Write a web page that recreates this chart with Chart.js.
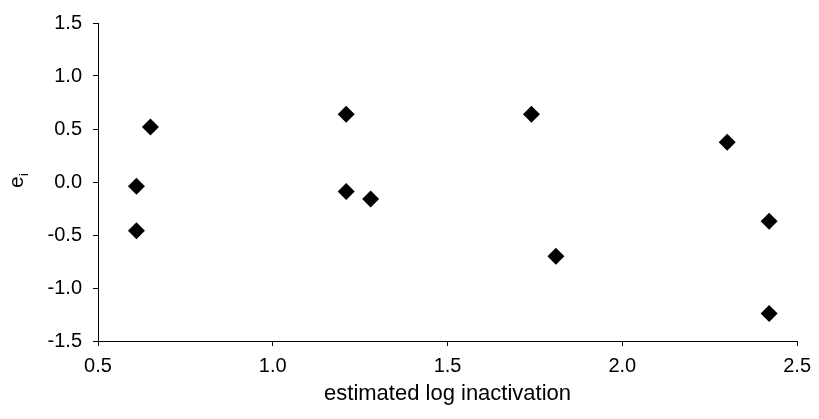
<!DOCTYPE html>
<html>
<head>
<meta charset="utf-8">
<script src="https://cdn.jsdelivr.net/npm/chart.js@4"></script>
<style>
  html, body { margin: 0; padding: 0; background: #fff; }
  #wrap { width: 819px; height: 419px; }
</style>
</head>
<body>
<div id="wrap"><canvas id="myChart"></canvas></div>
<script>
// estimated log inactivation vs residual e_i
const xValues = [0.61, 0.61, 0.65, 1.21, 1.21, 1.28, 1.74, 1.81, 2.30, 2.42, 2.42];
const yValues = [-0.04, -0.46, 0.52, 0.64, -0.09, -0.16, 0.64, -0.70, 0.375, -0.37, -1.24];
const xTicks = [0.5, 1.0, 1.5, 2.0, 2.5];
const yTicks = [1.5, 1.0, 0.5, 0.0, -0.5, -1.0, -1.5];

const points = xValues.map(function (x, i) {
  return { x: x, y: yValues[i] };
});

const font = { family: "Liberation Sans, Arial, sans-serif", size: 20 };

// draws the rotated "e" with subscript "i"
const yTitlePlugin = {
  id: "yTitle",
  afterDraw(chart) {
    const ctx = chart.ctx;
    const area = chart.chartArea;
    ctx.save();
    ctx.translate(23, (area.top + area.bottom) / 2);
    ctx.rotate(-Math.PI / 2);
    ctx.fillStyle = "#000";
    ctx.textBaseline = "alphabetic";
    ctx.font = "21px Liberation Sans, Arial, sans-serif";
    ctx.fillText("e", -6, 0);
    ctx.font = "13px Liberation Sans, Arial, sans-serif";
    ctx.fillText("i", 6, 5);
    ctx.restore();
  },
};

const config = {
  type: "scatter",
  data: {
    datasets: [
      {
        data: points,
        pointStyle: "rectRot",
        pointRadius: 8.5,
        pointHoverRadius: 8.5,
        backgroundColor: "#000",
        borderColor: "#000",
        borderWidth: 0,
      },
    ],
  },
  options: {
    responsive: true,
    maintainAspectRatio: false,
    animation: false,
    layout: { padding: { top: 23, right: 20, bottom: 0, left: 0 } },
    plugins: { legend: { display: false }, tooltip: { enabled: false } },
    scales: {
      x: {
        type: "linear",
        min: 0.5,
        max: 2.5,
        afterFit: function (scale) { scale.height = 78; },
        afterBuildTicks: function (scale) {
          scale.ticks = xTicks.map((v) => ({ value: v }));
        },
        ticks: {
          color: "#000",
          font: font,
          padding: 8,
          maxRotation: 0,
          callback: (v) => Number(v).toFixed(1),
        },
        grid: { drawOnChartArea: false, drawTicks: true, tickLength: 5, color: "#000" },
        border: { display: true, color: "#000", width: 1 },
        title: {
          display: true,
          text: "estimated log inactivation",
          color: "#000",
          font: { family: "Liberation Sans, Arial, sans-serif", size: 22 },
          padding: { top: 0, bottom: 12 },
        },
      },
      y: {
        type: "linear",
        min: -1.5,
        max: 1.5,
        afterFit: function (scale) { scale.width = 98; },
        afterBuildTicks: function (scale) {
          scale.ticks = yTicks.map((v) => ({ value: v }));
        },
        ticks: {
          color: "#000",
          font: font,
          padding: 11,
          callback: (v) => Number(v).toFixed(1),
        },
        grid: { drawOnChartArea: false, drawTicks: true, tickLength: 5, color: "#000" },
        border: { display: true, color: "#000", width: 1 },
      },
    },
  },
  plugins: [yTitlePlugin],
};

const myChart = new Chart(document.getElementById("myChart"), config);
</script>
</body>
</html>
